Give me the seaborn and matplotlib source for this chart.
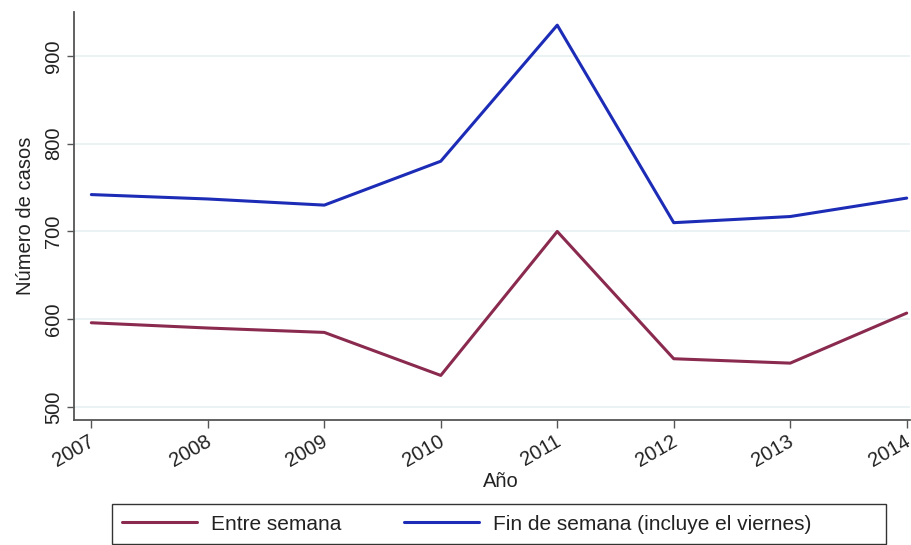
import pandas as pd
import matplotlib
matplotlib.use("Agg")
import matplotlib.pyplot as plt
import matplotlib.transforms as mtransforms
from matplotlib.patches import Rectangle
import seaborn as sns

years = [2007, 2008, 2009, 2010, 2011, 2012, 2013, 2014]
entre_semana = [596, 590, 585, 536, 700, 555, 550, 607]
fin_de_semana = [742, 737, 730, 780, 935, 710, 717, 738]
series_names = ["Entre semana", "Fin de semana (incluye el viernes)"]
y_ticks = [500, 600, 700, 800, 900]

df = pd.concat([
    pd.DataFrame({"Año": years, "casos": entre_semana, "serie": series_names[0]}),
    pd.DataFrame({"Año": years, "casos": fin_de_semana, "serie": series_names[1]}),
])

sns.set_style("white")
plt.rcParams["font.family"] = ["Liberation Sans", "DejaVu Sans"]
FS = 14.5

W, H = 912, 545
fig = plt.figure(figsize=(W / 100, H / 100), dpi=100)
ax = fig.add_axes([0.081, 0.229, 0.917, 0.749])

palette = {series_names[0]: "#8a2a4e", series_names[1]: "#1c2cb6"}
sns.lineplot(data=df, x="Año", y="casos", hue="serie", palette=palette,
             linewidth=2.2, ax=ax, legend=False)

for y in y_ticks:
    ax.axhline(y, color="#e8f0f1", linewidth=1.2, zorder=0)

ax.set_ylim(485, 950)
ax.set_xlim(2006.85, 2014.03)
ax.set_yticks(y_ticks)
ax.set_xticks(years)
ax.set_xticklabels([str(y) for y in years], rotation=30, ha="right",
                   rotation_mode="anchor", fontsize=FS)
ax.set_yticklabels([str(y) for y in y_ticks], rotation=90, va="center",
                   fontsize=FS)
ax.tick_params(axis="both", direction="out", length=5, width=1,
               color="#555555", labelcolor="#222222", pad=3,
               bottom=True, left=True)
ax.tick_params(axis="x", length=6, pad=2)

# pull the x labels slightly left so they finish at the tick
shift = mtransforms.ScaledTranslation(-3 / 100, 0, fig.dpi_scale_trans)
for lab in ax.get_xticklabels():
    lab.set_transform(lab.get_transform() + shift)

for side in ["top", "right"]:
    ax.spines[side].set_visible(False)
for side in ["left", "bottom"]:
    ax.spines[side].set_color("#555555")
    ax.spines[side].set_linewidth(1.3)

ax.set_xlabel("Año", fontsize=FS, color="#222222")
ax.xaxis.set_label_coords(0.51, -0.128)
ax.set_ylabel("Número de casos", fontsize=FS, color="#222222", labelpad=6)

# legend entries without frame, box drawn separately (wide Stata-style box)
handles = [plt.Line2D([], [], color=palette[n], linewidth=2.2) for n in series_names]
leg = fig.legend(handles, series_names, loc="center left", ncol=2,
                 bbox_to_anchor=(122 / W, 1 - 524 / H), borderaxespad=0,
                 borderpad=0, frameon=False, fontsize=15, handlelength=3.6,
                 columnspacing=3.0, handletextpad=0.67)
for t in leg.get_texts():
    t.set_color("#222222")
fig.patches.append(Rectangle((112 / W, 1 - 544 / H), (886 - 112) / W, 40 / H,
                             transform=fig.transFigure, fill=False,
                             edgecolor="#333333", linewidth=1.0))

fig.savefig("out.png", dpi=100)
